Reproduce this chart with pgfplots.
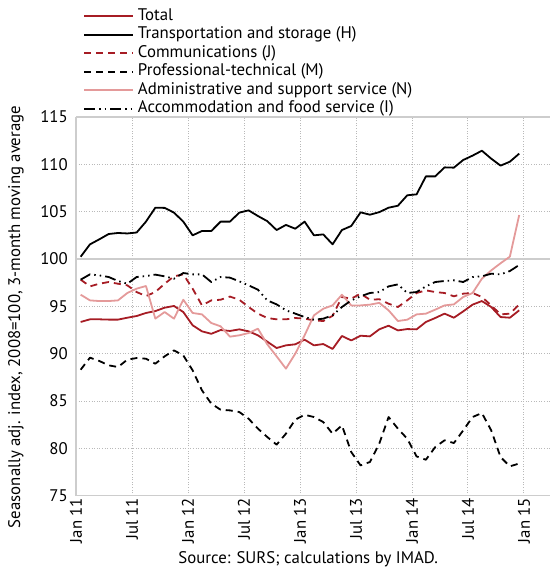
\documentclass[border=0pt]{standalone}
\usepackage{pgfplots}
\usepackage{pgfplotstable}
\pgfplotsset{compat=1.18}
\usepackage{fontspec}
\setmainfont{PT Sans}

\definecolor{totred}{RGB}{166,28,36}
\definecolor{adminpink}{RGB}{228,154,154}
\definecolor{framegray}{RGB}{205,205,205}

% monthly values, Jan 11 - Dec 14, plotted mid-month
\pgfplotstableread{
x     total   H       J      M      N       I
0.5   93.35   100.24  97.82  88.31  96.23   97.82
1.5   93.63   101.55  97.11  89.58  95.63   98.38
2.5   93.63   102.08  97.39  89.23  95.56   98.27
3.5   93.60   102.64  97.57  88.77  95.56   98.10
4.5   93.60   102.75  97.39  88.59  95.63   97.68
5.5   93.80   102.70  97.22  89.37  96.41   97.39
6.5   93.98   102.80  96.51  89.54  96.87   98.10
7.5   94.30   103.95  96.09  89.47  97.15   98.20
8.5   94.50   105.42  96.51  88.94  93.70   98.35
9.5   94.86   105.40  97.39  89.72  94.40   98.17
10.5  95.04   104.90  98.17  90.35  93.70   97.92
11.5  94.40   103.95  98.38  89.82  95.70   98.52
12.5  93.00   102.50  96.87  88.24  94.30   98.38
13.5  92.36   102.96  95.10  86.13  94.15   98.38
14.5  92.10   102.96  95.63  84.72  93.24   97.57
15.5  92.50   103.95  95.70  84.08  92.89   98.10
16.5  92.40   103.95  96.03  84.01  91.80   98.03
17.5  92.57   104.90  95.70  83.84  91.94   97.64
18.5  92.36   105.14  94.93  83.13  92.18   97.22
19.5  91.94   104.54  94.23  82.08  92.64   96.76
20.5  91.27   104.00  93.77  81.20  90.99   95.63
21.5  90.60   103.06  93.63  80.39  89.72   95.21
22.5  90.88   103.60  93.63  81.55  88.42   94.58
23.5  90.99   103.20  93.77  83.03  90.00   94.23
24.5  91.48   103.95  93.70  83.55  91.94   93.87
25.5  90.88   102.50  93.52  83.31  94.05   93.59
26.5  91.02   102.60  93.45  82.78  94.75   93.70
27.5  90.50   101.55  94.00  81.55  95.10   94.05
28.5  91.87   103.06  95.99  82.43  96.23   94.93
29.5  91.40   103.49  95.81  79.61  95.10   95.63
30.5  91.90   104.93  96.34  78.20  95.10   96.06
31.5  91.83   104.68  95.70  78.56  95.18   96.41
32.5  92.57   104.95  95.75  80.49  95.37   96.51
33.5  92.96   105.42  95.28  83.31  94.58   97.11
34.5  92.46   105.63  94.93  82.08  93.45   97.32
35.5  92.60   106.73  95.63  81.02  93.59   96.41
36.5  92.57   106.83  96.41  79.15  94.15   96.51
37.5  93.35   108.73  96.69  78.80  94.23   97.11
38.5  93.77   108.73  96.51  80.14  94.65   97.57
39.5  94.23   109.68  96.41  80.85  95.10   97.68
40.5  93.80   109.65  96.06  80.56  95.21   97.75
41.5  94.47   110.46  96.34  81.90  95.99   97.57
42.5  95.18   110.92  96.41  83.31  96.41   98.10
43.5  95.56   111.44  95.99  83.73  97.92   98.17
44.5  94.93   110.60  95.10  81.90  98.80   98.45
45.5  93.87   109.86  94.15  79.08  99.55   98.38
46.5  93.80   110.28  94.23  78.10  100.25  98.73
47.5  94.58   111.13  95.21  78.40  104.65  99.37
}\servicedata

\begin{document}
\begin{tikzpicture}
\begin{axis}[
    scale only axis,
    width=474pt,
    height=378.7pt,
    xmin=0, xmax=50.8,
    ymin=75, ymax=115,
    xtick={0,6,...,48},
    xticklabels={Jan 11,Jul 11,Jan 12,Jul 12,Jan 13,Jul 13,Jan 14,Jul 14,Jan 15},
    ytick={75,80,...,115},
    major tick length=0pt,
    axis line style={draw=none},
    grid=major,
    major grid style={gray!55, line width=0.8pt, dash pattern=on 1pt off 1.6pt},
    extra y ticks={75,100,115},
    extra y tick labels={},
    extra x ticks={0},
    extra x tick labels={},
    extra tick style={grid=major, major grid style={framegray, solid, line width=1.3pt}},
    /pgf/number format/assume math mode=true,
    tick label style={font=\fontsize{16.8pt}{19pt}\selectfont},
    xticklabel style={rotate=90, anchor=east, inner sep=2pt},
    yticklabel style={inner sep=2pt, xshift=-6pt},
    ylabel={\mbox{Seasonally adj. index, 2008=100, 3-month moving average}},
    ylabel style={at={(axis description cs:-0.127,0.472)}, anchor=center, font=\fontsize{16.8pt}{19pt}\selectfont},
    xlabel={Source: SURS; calculations by IMAD.},
    xlabel style={at={(axis description cs:0.49,-0.1675)}, anchor=center, font=\fontsize{16.8pt}{19pt}\selectfont},
    legend cell align=left,
    legend style={at={(axis description cs:0.0,1.0)}, anchor=south west, xshift=7pt, draw=none, fill=none,
        font=\fontsize{16.8pt}{19pt}\selectfont, inner sep=0pt, row sep=2.5pt,
        nodes={inner ysep=1pt, inner xsep=4pt, text height=11pt, text depth=3pt}},
    legend image code/.code={\draw[#1] (0pt,0pt) -- (49pt,0pt);},
    every axis plot/.append style={line width=1.8pt, line join=round},
]
\addplot[totred, solid] table[x=x, y=total] {\servicedata};
\addlegendentry{Total}
\addplot[black, solid] table[x=x, y=H] {\servicedata};
\addlegendentry{Transportation and storage (H)}
\addplot[totred, dash pattern=on 7pt off 5pt] table[x=x, y=J] {\servicedata};
\addlegendentry{Communications (J)}
\addplot[black, dash pattern=on 7pt off 5pt] table[x=x, y=M] {\servicedata};
\addlegendentry{Professional-technical (M)}
\addplot[adminpink, solid] table[x=x, y=N] {\servicedata};
\addlegendentry{Administrative and support service (N)}
\addplot[black, dash pattern=on 11pt off 4pt on 1.5pt off 4pt on 1.5pt off 4pt] table[x=x, y=I] {\servicedata};
\addlegendentry{Accommodation and food service (I)}
\end{axis}
\pgfresetboundingbox
\path (-76pt,-75.3pt) rectangle (474pt,495.7pt);
\end{tikzpicture}
\end{document}
